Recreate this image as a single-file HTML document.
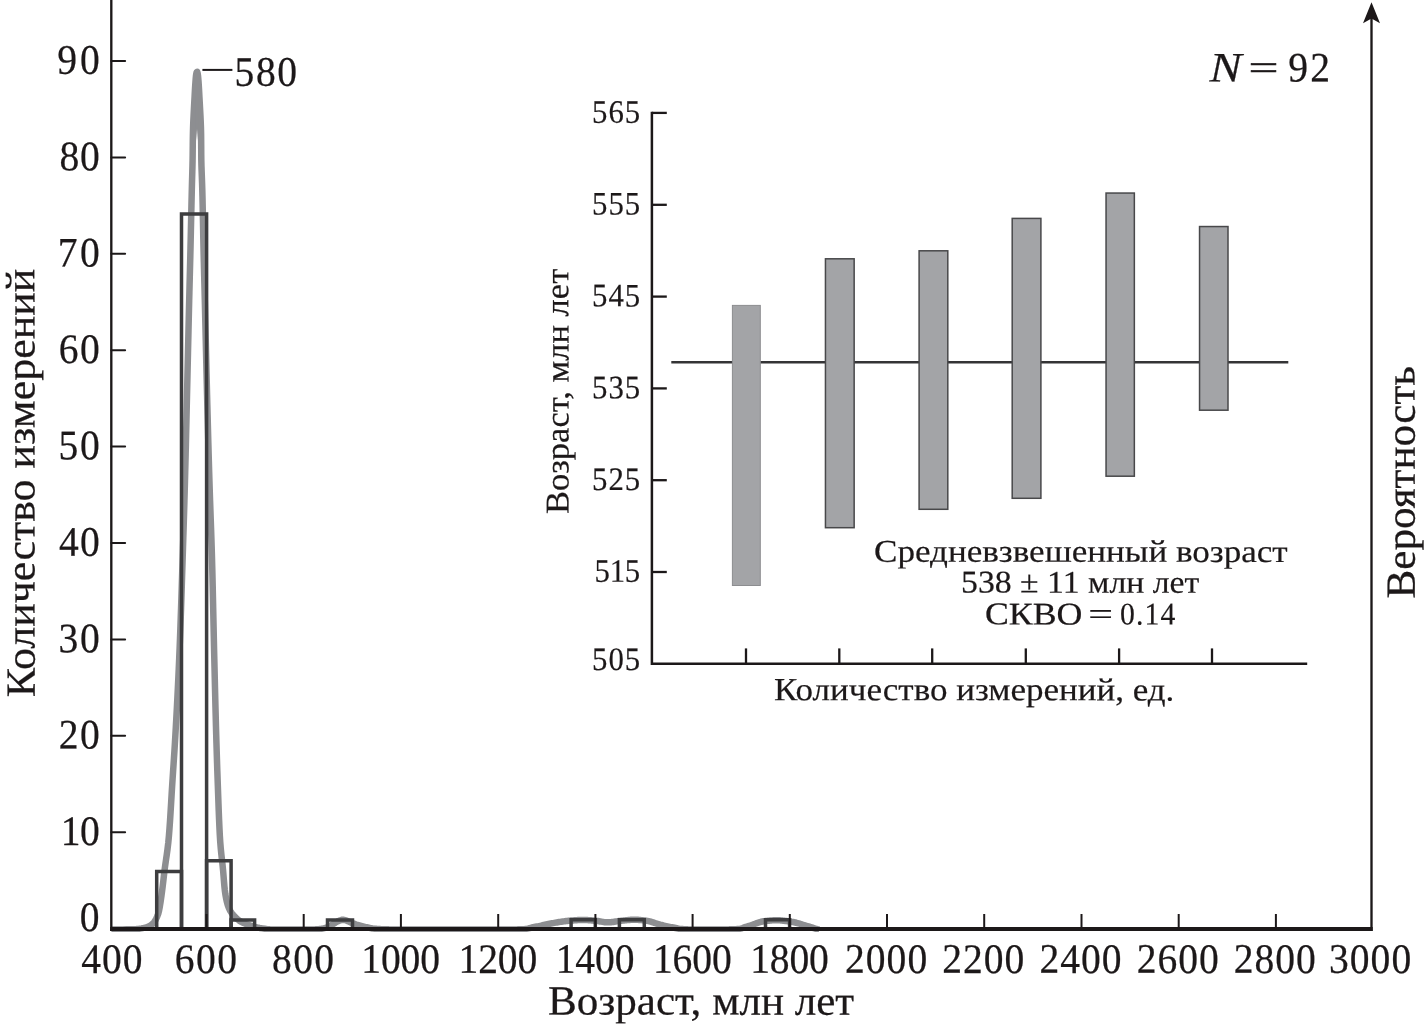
<!DOCTYPE html>
<html lang="ru">
<head>
<meta charset="utf-8">
<title>Количество измерений — Возраст, млн лет</title>
<style>
html,body{margin:0;padding:0;background:#fff;}
body{width:1428px;height:1028px;overflow:hidden;}
svg{display:block;}
text{font-family:"Liberation Serif","Times New Roman",serif;white-space:pre;text-rendering:geometricPrecision;}
</style>
</head>
<body>
<svg width="1428" height="1028" viewBox="0 0 1428 1028" font-family="'Liberation Serif', 'Times New Roman', serif" fill="#1c1819">
<rect width="1428" height="1028" fill="#fff"/>
<clipPath id="kclip"><rect x="0" y="0" width="1428" height="932.1"/></clipPath>
<path clip-path="url(#kclip)" d="M111.40,929.45 L115.25,929.44 L119.02,929.43 L122.72,929.41 L126.40,929.37 L130.11,929.27 L133.57,929.13 L136.52,928.96 L139.06,928.70 L141.52,928.37 L144.00,927.92 L146.38,927.31 L148.65,926.47 L150.75,925.36 L152.58,923.92 L154.18,922.13 L155.49,920.14 L156.60,917.91 L157.51,915.75 L158.28,913.59 L159.05,910.62 L159.87,906.31 L160.68,901.14 L161.46,895.71 L162.15,890.61 L162.74,885.91 L163.27,881.29 L163.80,876.58 L164.38,871.61 L165.06,866.34 L165.85,860.89 L166.68,855.21 L167.51,849.23 L168.26,842.90 L168.90,836.09 L169.49,828.56 L170.05,820.49 L170.58,812.07 L171.09,803.52 L171.59,795.04 L172.08,786.84 L172.58,779.11 L173.05,771.86 L173.52,764.88 L173.97,757.99 L174.43,750.97 L174.88,743.63 L175.34,735.78 L175.82,727.28 L176.31,718.22 L176.82,708.71 L177.32,698.86 L177.82,688.77 L178.30,678.55 L178.77,668.30 L179.21,658.14 L179.62,648.15 L180.01,638.17 L180.38,628.09 L180.73,617.96 L181.08,607.79 L181.41,597.63 L181.73,587.52 L182.05,577.47 L182.36,567.54 L182.67,557.74 L182.98,548.08 L183.28,538.51 L183.58,529.03 L183.86,519.60 L184.15,510.21 L184.42,500.82 L184.69,491.42 L184.95,481.98 L185.19,472.54 L185.43,463.19 L185.66,453.87 L185.88,444.56 L186.09,435.21 L186.31,425.77 L186.53,416.20 L186.75,406.45 L186.98,396.47 L187.22,385.98 L187.47,375.06 L187.73,363.88 L187.98,352.61 L188.24,341.42 L188.49,330.46 L188.73,319.93 L188.96,309.97 L189.18,300.76 L189.39,292.38 L189.58,284.63 L189.77,277.31 L189.95,270.20 L190.13,263.10 L190.31,255.81 L190.49,248.11 L190.68,239.91 L190.87,231.36 L191.06,222.67 L191.25,214.04 L191.44,205.66 L191.62,197.74 L191.79,190.48 L191.96,183.90 L192.13,177.77 L192.30,171.97 L192.45,166.35 L192.57,160.81 L192.65,155.32 L192.71,150.08 L192.76,144.95 L192.81,139.73 L192.90,134.25 L193.05,128.29 L193.29,121.93 L193.59,115.42 L193.92,109.04 L194.24,103.03 L194.53,97.59 L194.81,92.29 L195.09,87.30 L195.38,82.86 L195.66,79.25 L195.93,76.28 L196.24,73.92 L196.70,72.00 L197.23,71.80 L197.71,73.65 L198.03,75.91 L198.30,78.80 L198.58,82.30 L198.87,86.64 L199.15,91.57 L199.43,96.84 L199.72,102.24 L200.04,108.17 L200.38,114.52 L200.69,121.02 L200.94,127.42 L201.09,133.45 L201.15,138.98 L201.19,144.23 L201.22,149.36 L201.25,154.58 L201.31,160.03 L201.44,165.58 L201.63,171.17 L201.85,176.95 L202.08,183.02 L202.29,189.53 L202.47,196.68 L202.64,204.52 L202.81,212.84 L202.97,221.45 L203.14,230.15 L203.31,238.73 L203.48,246.99 L203.66,254.76 L203.84,262.10 L204.02,269.21 L204.20,276.31 L204.39,283.59 L204.58,291.27 L204.79,299.55 L205.01,308.63 L205.24,318.49 L205.49,328.96 L205.75,339.86 L206.01,351.04 L206.28,362.31 L206.54,373.51 L206.81,384.47 L207.07,395.03 L207.33,405.07 L207.59,414.84 L207.84,424.43 L208.09,433.89 L208.35,443.25 L208.60,452.57 L208.87,461.88 L209.14,471.22 L209.42,480.65 L209.72,490.10 L210.03,499.50 L210.36,508.89 L210.69,518.28 L211.03,527.70 L211.35,537.17 L211.66,546.72 L211.95,556.37 L212.21,566.15 L212.46,576.07 L212.70,586.10 L212.92,596.21 L213.14,606.36 L213.36,616.53 L213.58,626.68 L213.80,636.77 L214.02,646.77 L214.26,656.73 L214.50,666.88 L214.74,677.13 L214.98,687.36 L215.23,697.48 L215.47,707.38 L215.72,716.95 L215.96,726.08 L216.20,734.66 L216.43,742.61 L216.65,750.01 L216.87,757.06 L217.09,763.97 L217.32,770.93 L217.57,778.14 L217.84,785.80 L218.12,793.95 L218.42,802.41 L218.73,810.97 L219.07,819.42 L219.43,827.56 L219.81,835.17 L220.24,842.07 L220.77,848.47 L221.37,854.50 L222.00,860.23 L222.61,865.71 L223.14,871.01 L223.57,876.15 L223.95,881.08 L224.34,885.77 L224.80,890.19 L225.37,894.35 L226.06,898.29 L226.85,901.93 L227.76,905.18 L228.87,908.10 L230.16,910.72 L231.65,913.06 L233.43,915.15 L235.27,917.09 L237.15,918.96 L239.15,920.60 L241.33,921.91 L243.65,923.03 L246.06,924.02 L248.57,924.89 L251.22,925.73 L254.09,926.60 L256.98,927.37 L259.67,927.92 L262.22,928.34 L264.77,928.72 L267.27,929.12 L269.95,929.35 L273.01,929.40 L276.36,929.44 L280.00,929.45 L300.00,929.45 L312.00,929.45 L312.94,929.44 L313.89,929.42 L314.83,929.38 L315.78,929.33 L316.72,929.27 L317.66,929.20 L318.61,929.12 L319.55,929.04 L320.49,928.94 L321.44,928.81 L322.38,928.64 L323.33,928.42 L324.27,928.18 L325.21,927.91 L326.16,927.60 L327.10,927.26 L328.04,926.87 L328.99,926.42 L329.93,925.95 L330.88,925.46 L331.82,924.94 L332.76,924.35 L333.71,923.73 L334.65,923.10 L335.60,922.53 L336.54,922.01 L337.48,921.50 L338.43,921.03 L339.37,920.62 L340.31,920.30 L341.26,920.00 L342.20,919.81 L343.15,919.83 L344.09,919.98 L345.03,920.19 L345.98,920.43 L346.92,920.76 L347.87,921.16 L348.81,921.59 L349.75,922.00 L350.70,922.37 L351.64,922.75 L352.58,923.12 L353.53,923.49 L354.47,923.85 L355.42,924.20 L356.36,924.53 L357.30,924.83 L358.25,925.12 L359.19,925.41 L360.13,925.68 L361.08,925.95 L362.02,926.20 L362.97,926.44 L363.91,926.66 L364.85,926.87 L365.80,927.07 L366.74,927.26 L367.69,927.46 L368.63,927.69 L369.57,927.91 L370.52,928.13 L371.46,928.31 L372.40,928.47 L373.35,928.60 L374.29,928.70 L375.24,928.78 L376.18,928.85 L377.12,928.92 L378.07,928.98 L379.01,929.04 L379.96,929.10 L380.90,929.14 L381.84,929.19 L382.79,929.23 L383.73,929.26 L384.67,929.29 L385.62,929.31 L386.56,929.33 L387.51,929.35 L388.45,929.37 L389.39,929.39 L390.34,929.40 L391.28,929.41 L392.22,929.43 L393.17,929.44 L394.11,929.44 L395.06,929.45 L396.00,929.45 L505.00,929.45 L505.00,929.45 L506.18,929.45 L507.35,929.45 L508.53,929.44 L509.70,929.44 L510.88,929.43 L512.06,929.42 L513.23,929.41 L514.41,929.40 L515.58,929.39 L516.76,929.38 L517.94,929.35 L519.11,929.32 L520.29,929.28 L521.47,929.24 L522.64,929.19 L523.82,929.12 L524.99,929.03 L526.17,928.87 L527.35,928.66 L528.52,928.41 L529.70,928.13 L530.87,927.83 L532.05,927.51 L533.23,927.26 L534.40,927.02 L535.58,926.78 L536.75,926.55 L537.93,926.32 L539.11,926.07 L540.28,925.81 L541.46,925.55 L542.64,925.28 L543.81,925.02 L544.99,924.75 L546.16,924.49 L547.34,924.24 L548.52,924.00 L549.69,923.76 L550.87,923.53 L552.04,923.30 L553.22,923.07 L554.40,922.85 L555.57,922.64 L556.75,922.43 L557.92,922.23 L559.10,922.04 L560.28,921.86 L561.45,921.69 L562.63,921.52 L563.81,921.35 L564.98,921.19 L566.16,921.04 L567.33,920.90 L568.51,920.78 L569.69,920.68 L570.86,920.58 L572.04,920.49 L573.21,920.40 L574.39,920.31 L575.57,920.23 L576.74,920.15 L577.92,920.08 L579.09,920.03 L580.27,919.99 L581.45,919.96 L582.62,919.95 L583.80,919.96 L584.97,919.99 L586.15,920.04 L587.33,920.10 L588.50,920.18 L589.68,920.26 L590.86,920.35 L592.03,920.45 L593.21,920.55 L594.38,920.65 L595.56,920.75 L596.74,920.89 L597.91,921.06 L599.09,921.25 L600.26,921.46 L601.44,921.66 L602.62,921.86 L603.79,922.04 L604.97,922.18 L606.14,922.29 L607.32,922.34 L608.50,922.34 L609.67,922.29 L610.85,922.19 L612.03,922.06 L613.20,921.91 L614.38,921.74 L615.55,921.55 L616.73,921.37 L617.91,921.19 L619.08,921.02 L620.26,920.88 L621.43,920.76 L622.61,920.64 L623.79,920.51 L624.96,920.38 L626.14,920.25 L627.31,920.13 L628.49,920.02 L629.67,919.92 L630.84,919.83 L632.02,919.76 L633.19,919.72 L634.37,919.70 L635.55,919.71 L636.72,919.75 L637.90,919.81 L639.08,919.90 L640.25,920.00 L641.43,920.12 L642.60,920.24 L643.78,920.38 L644.96,920.52 L646.13,920.67 L647.31,920.87 L648.48,921.12 L649.66,921.41 L650.84,921.73 L652.01,922.08 L653.19,922.45 L654.36,922.83 L655.54,923.22 L656.72,923.60 L657.89,923.98 L659.07,924.33 L660.25,924.66 L661.42,924.95 L662.60,925.24 L663.77,925.53 L664.95,925.81 L666.13,926.09 L667.30,926.36 L668.48,926.62 L669.65,926.86 L670.83,927.09 L672.01,927.30 L673.18,927.51 L674.36,927.78 L675.53,928.04 L676.71,928.29 L677.89,928.52 L679.06,928.72 L680.24,928.89 L681.42,929.02 L682.59,929.10 L683.77,929.17 L684.94,929.24 L686.12,929.30 L687.30,929.35 L688.47,929.39 L689.65,929.42 L690.82,929.44 L692.00,929.45 L700.00,929.45 L701.09,929.45 L702.19,929.45 L703.28,929.45 L704.38,929.45 L705.47,929.45 L706.57,929.45 L707.66,929.45 L708.76,929.44 L709.85,929.44 L710.94,929.44 L712.04,929.44 L713.13,929.44 L714.23,929.43 L715.32,929.43 L716.42,929.43 L717.51,929.43 L718.61,929.42 L719.70,929.42 L720.80,929.42 L721.89,929.41 L722.98,929.41 L724.08,929.40 L725.17,929.40 L726.27,929.39 L727.36,929.39 L728.46,929.38 L729.55,929.37 L730.65,929.35 L731.74,929.32 L732.83,929.29 L733.93,929.25 L735.02,929.20 L736.12,929.15 L737.21,929.09 L738.31,929.02 L739.40,928.87 L740.50,928.63 L741.59,928.33 L742.69,927.97 L743.78,927.56 L744.87,927.21 L745.97,926.86 L747.06,926.51 L748.16,926.15 L749.25,925.82 L750.35,925.50 L751.44,925.16 L752.54,924.78 L753.63,924.38 L754.72,923.97 L755.82,923.55 L756.91,923.13 L758.01,922.73 L759.10,922.36 L760.20,922.01 L761.29,921.71 L762.39,921.47 L763.48,921.28 L764.58,921.14 L765.67,921.01 L766.76,920.88 L767.86,920.76 L768.95,920.65 L770.05,920.55 L771.14,920.46 L772.24,920.38 L773.33,920.32 L774.43,920.28 L775.52,920.26 L776.61,920.25 L777.71,920.27 L778.80,920.31 L779.90,920.37 L780.99,920.45 L782.09,920.54 L783.18,920.66 L784.28,920.78 L785.37,920.92 L786.47,921.06 L787.56,921.22 L788.65,921.38 L789.75,921.54 L790.84,921.71 L791.94,921.88 L793.03,922.05 L794.13,922.27 L795.22,922.51 L796.32,922.78 L797.41,923.08 L798.50,923.40 L799.60,923.73 L800.69,924.07 L801.79,924.42 L802.88,924.76 L803.98,925.10 L805.07,925.43 L806.17,925.75 L807.26,926.06 L808.36,926.38 L809.45,926.71 L810.54,927.03 L811.64,927.35 L812.73,927.70 L813.83,928.09 L814.92,928.46 L816.02,928.82 L817.11,929.17 L818.21,929.50 L819.30,929.75" fill="none" stroke="#8d8e91" stroke-width="6.5" stroke-linejoin="round" stroke-linecap="butt"/>
<path d="M195.9,96 H198.1 V128 L197,141 L195.9,128 Z" fill="#8d8e91"/>
<g fill="none" stroke="#3d3d3f" stroke-width="3.5" stroke-linejoin="miter">
<path d="M156.7,929.0 V871.6 H181.5 V929.0"/>
<path d="M181.5,929.0 V214.0 H206.6 V929.0"/>
<path d="M206.6,929.0 V860.8 H231.1 V929.0"/>
<path d="M231.1,929.0 V919.9 H254.6 V929.0"/>
<path d="M327.5,929.0 V920.0 H352.5 V929.0"/>
<path d="M571.1,929.0 V919.7 H595.3 V929.0"/>
<path d="M619.4,929.0 V919.7 H644.3 V929.0"/>
<path d="M765.5,929.0 V919.8 H789.6 V929.0"/>
</g>
<g stroke="#1c1819" fill="none">
<line x1="111.3" y1="0" x2="111.3" y2="931.0" stroke-width="2.35"/>
<line x1="110.1" y1="929.0" x2="1372.7" y2="929.0" stroke-width="4.1"/>
<line x1="1371.5" y1="18" x2="1371.5" y2="931.0" stroke-width="2.35"/>
<line x1="111.3" y1="832.2" x2="125.1" y2="832.2" stroke-width="2" stroke-linecap="round"/>
<line x1="111.3" y1="735.8" x2="125.1" y2="735.8" stroke-width="2" stroke-linecap="round"/>
<line x1="111.3" y1="639.4" x2="125.1" y2="639.4" stroke-width="2" stroke-linecap="round"/>
<line x1="111.3" y1="543.0" x2="125.1" y2="543.0" stroke-width="2" stroke-linecap="round"/>
<line x1="111.3" y1="446.6" x2="125.1" y2="446.6" stroke-width="2" stroke-linecap="round"/>
<line x1="111.3" y1="350.2" x2="125.1" y2="350.2" stroke-width="2" stroke-linecap="round"/>
<line x1="111.3" y1="253.8" x2="125.1" y2="253.8" stroke-width="2" stroke-linecap="round"/>
<line x1="111.3" y1="157.4" x2="125.1" y2="157.4" stroke-width="2" stroke-linecap="round"/>
<line x1="111.3" y1="61.0" x2="125.1" y2="61.0" stroke-width="2" stroke-linecap="round"/>
<line x1="206.5" y1="929.0" x2="206.5" y2="914.0" stroke-width="2"/>
<line x1="303.7" y1="929.0" x2="303.7" y2="914.0" stroke-width="2"/>
<line x1="400.9" y1="929.0" x2="400.9" y2="914.0" stroke-width="2"/>
<line x1="498.2" y1="929.0" x2="498.2" y2="914.0" stroke-width="2"/>
<line x1="595.4" y1="929.0" x2="595.4" y2="914.0" stroke-width="2"/>
<line x1="692.6" y1="929.0" x2="692.6" y2="914.0" stroke-width="2"/>
<line x1="789.8" y1="929.0" x2="789.8" y2="914.0" stroke-width="2"/>
<line x1="887.0" y1="929.0" x2="887.0" y2="914.0" stroke-width="2"/>
<line x1="984.2" y1="929.0" x2="984.2" y2="914.0" stroke-width="2"/>
<line x1="1081.5" y1="929.0" x2="1081.5" y2="914.0" stroke-width="2"/>
<line x1="1178.7" y1="929.0" x2="1178.7" y2="914.0" stroke-width="2"/>
<line x1="1275.9" y1="929.0" x2="1275.9" y2="914.0" stroke-width="2"/>
</g>
<path d="M1371.5,2.3 L1380.0,23.2 L1371.5,18.4 L1363.0,23.2 Z" fill="#1c1819"/>
<text transform="translate(81.47,844.95) rotate(0.04) translate(-20.80,0) scale(0.9400,1)" font-size="42" letter-spacing="-0.420" stroke="#1c1819" stroke-width="0.25" stroke-linejoin="round">10</text>
<text transform="translate(78.51,748.55) rotate(0.04) translate(-19.86,0) scale(0.9400,1)" font-size="42" letter-spacing="1.729" stroke="#1c1819" stroke-width="0.25" stroke-linejoin="round">20</text>
<text transform="translate(78.59,652.15) rotate(0.04) translate(-19.98,0) scale(0.9400,1)" font-size="42" letter-spacing="1.766" stroke="#1c1819" stroke-width="0.25" stroke-linejoin="round">30</text>
<text transform="translate(78.48,555.75) rotate(0.04) translate(-19.39,0) scale(0.9400,1)" font-size="42" letter-spacing="1.261" stroke="#1c1819" stroke-width="0.25" stroke-linejoin="round">40</text>
<text transform="translate(78.76,459.35) rotate(0.04) translate(-20.21,0) scale(0.9400,1)" font-size="42" letter-spacing="1.840" stroke="#1c1819" stroke-width="0.25" stroke-linejoin="round">50</text>
<text transform="translate(78.51,362.95) rotate(0.04) translate(-19.86,0) scale(0.9400,1)" font-size="42" letter-spacing="1.729" stroke="#1c1819" stroke-width="0.25" stroke-linejoin="round">60</text>
<text transform="translate(78.04,266.55) rotate(0.04) translate(-20.33,0) scale(0.9400,1)" font-size="42" letter-spacing="2.729" stroke="#1c1819" stroke-width="0.25" stroke-linejoin="round">70</text>
<text transform="translate(79.13,170.15) rotate(0.04) translate(-19.74,0) scale(0.9400,1)" font-size="42" letter-spacing="0.947" stroke="#1c1819" stroke-width="0.25" stroke-linejoin="round">80</text>
<text transform="translate(76.85,73.75) rotate(0.04) translate(-19.62,0) scale(0.9400,1)" font-size="42" letter-spacing="3.250" stroke="#1c1819" stroke-width="0.25" stroke-linejoin="round">90</text>
<text transform="translate(89.74,930.90) rotate(0.04) translate(-9.87,0) scale(0.9400,1)" font-size="42" stroke="#1c1819" stroke-width="0.25" stroke-linejoin="round">0</text>
<text transform="translate(110.45,972.90) rotate(0.04) translate(-29.26,0) scale(0.9400,1)" font-size="42" letter-spacing="1.114" stroke="#1c1819" stroke-width="0.25" stroke-linejoin="round">400</text>
<text transform="translate(204.48,972.90) rotate(0.04) translate(-29.73,0) scale(0.9400,1)" font-size="42" letter-spacing="1.614" stroke="#1c1819" stroke-width="0.25" stroke-linejoin="round">600</text>
<text transform="translate(301.60,972.90) rotate(0.04) translate(-29.61,0) scale(0.9400,1)" font-size="42" letter-spacing="1.489" stroke="#1c1819" stroke-width="0.25" stroke-linejoin="round">800</text>
<text transform="translate(401.80,972.90) rotate(0.04) translate(-40.54,0) scale(0.9400,1)" font-size="42" letter-spacing="-0.080" stroke="#1c1819" stroke-width="0.25" stroke-linejoin="round">1000</text>
<text transform="translate(499.02,972.90) rotate(0.04) translate(-40.54,0) scale(0.9400,1)" font-size="42" letter-spacing="-0.080" stroke="#1c1819" stroke-width="0.25" stroke-linejoin="round">1200</text>
<text transform="translate(596.24,972.90) rotate(0.04) translate(-40.54,0) scale(0.9400,1)" font-size="42" letter-spacing="-0.080" stroke="#1c1819" stroke-width="0.25" stroke-linejoin="round">1400</text>
<text transform="translate(693.46,972.90) rotate(0.04) translate(-40.54,0) scale(0.9400,1)" font-size="42" letter-spacing="-0.080" stroke="#1c1819" stroke-width="0.25" stroke-linejoin="round">1600</text>
<text transform="translate(790.67,972.90) rotate(0.04) translate(-40.54,0) scale(0.9400,1)" font-size="42" letter-spacing="-0.080" stroke="#1c1819" stroke-width="0.25" stroke-linejoin="round">1800</text>
<text transform="translate(884.68,972.90) rotate(0.04) translate(-39.60,0) scale(0.9400,1)" font-size="42" letter-spacing="1.098" stroke="#1c1819" stroke-width="0.25" stroke-linejoin="round">2000</text>
<text transform="translate(981.90,972.90) rotate(0.04) translate(-39.60,0) scale(0.9400,1)" font-size="42" letter-spacing="1.098" stroke="#1c1819" stroke-width="0.25" stroke-linejoin="round">2200</text>
<text transform="translate(1079.12,972.90) rotate(0.04) translate(-39.60,0) scale(0.9400,1)" font-size="42" letter-spacing="1.098" stroke="#1c1819" stroke-width="0.25" stroke-linejoin="round">2400</text>
<text transform="translate(1176.35,972.90) rotate(0.04) translate(-39.60,0) scale(0.9400,1)" font-size="42" letter-spacing="1.098" stroke="#1c1819" stroke-width="0.25" stroke-linejoin="round">2600</text>
<text transform="translate(1273.40,972.90) rotate(0.04) translate(-39.60,0) scale(0.9400,1)" font-size="42" letter-spacing="1.098" stroke="#1c1819" stroke-width="0.25" stroke-linejoin="round">2800</text>
<text transform="translate(1368.63,972.90) rotate(0.04) translate(-39.71,0) scale(0.9400,1)" font-size="42" letter-spacing="1.181" stroke="#1c1819" stroke-width="0.25" stroke-linejoin="round">3000</text>
<text transform="translate(701.45,1014.60) rotate(0.04) translate(-153.45,0) scale(1.0377,1)" font-size="41.5" stroke="#1c1819" stroke-width="0.25" stroke-linejoin="round">Возраст, млн лет</text>
<text transform="translate(34.65,697.22) rotate(-90.04) scale(1.0590,1)" font-size="41.5" stroke="#1c1819" stroke-width="0.25" stroke-linejoin="round">Количество измерений</text>
<text transform="translate(1414.75,598.60) rotate(-90.04) scale(1.0407,1)" font-size="41.5" stroke="#1c1819" stroke-width="0.25" stroke-linejoin="round">Вероятность</text>
<line x1="202.4" y1="69.9" x2="232.4" y2="69.9" stroke="#1c1819" stroke-width="2"/>
<text transform="translate(264.68,85.85) rotate(0.04) translate(-30.08,0) scale(0.9400,1)" font-size="42" letter-spacing="1.644" stroke="#1c1819" stroke-width="0.25" stroke-linejoin="round">580</text>
<text transform="translate(1226.70,81.60) rotate(0.04) translate(-17.11,0) scale(1.1504,1)" font-size="42" font-style="italic" stroke="#1c1819" stroke-width="0.25" stroke-linejoin="round">N</text>
<text transform="translate(1263.50,79.30) rotate(0.04) translate(-15.03,0) scale(1.2658,0.839)" font-size="42" stroke="#1c1819" stroke-width="0.62" stroke-linejoin="round">=</text>
<text transform="translate(1307.50,81.60) rotate(0.04) translate(-19.27,0) scale(0.9400,1)" font-size="42" letter-spacing="2.457" stroke="#1c1819" stroke-width="0.25" stroke-linejoin="round">92</text>
<g stroke="#1c1819" fill="none" stroke-width="2.3">
<line x1="651.9" y1="112.9" x2="666.8" y2="112.9"/>
<line x1="651.9" y1="204.8" x2="666.8" y2="204.8"/>
<line x1="651.9" y1="296.6" x2="666.8" y2="296.6"/>
<line x1="651.9" y1="388.4" x2="666.8" y2="388.4"/>
<line x1="651.9" y1="480.2" x2="666.8" y2="480.2"/>
<line x1="651.9" y1="572.0" x2="666.8" y2="572.0"/>
<line x1="746.0" y1="663.85" x2="746.0" y2="648.4"/>
<line x1="839.3" y1="663.85" x2="839.3" y2="648.4"/>
<line x1="932.2" y1="663.85" x2="932.2" y2="648.4"/>
<line x1="1025.8" y1="663.85" x2="1025.8" y2="648.4"/>
<line x1="1119.1" y1="663.85" x2="1119.1" y2="648.4"/>
<line x1="1212.0" y1="663.85" x2="1212.0" y2="648.4"/>
<path d="M651.9,111.8 V663.85 H1307.2" stroke-width="2.5" stroke-linejoin="miter"/>
</g>
<line x1="671.3" y1="362.3" x2="1288.3" y2="362.3" stroke="#343436" stroke-width="2.4"/>
<rect x="732.40" y="305.40" width="27.90" height="280.10" fill="#a3a4a7" stroke="#8c8d90" stroke-width="1.0"/>
<rect x="825.45" y="258.80" width="28.70" height="268.90" fill="#a3a4a7" stroke="#48484a" stroke-width="1.5"/>
<rect x="919.10" y="250.80" width="28.70" height="258.50" fill="#a3a4a7" stroke="#48484a" stroke-width="1.5"/>
<rect x="1012.20" y="218.40" width="28.70" height="279.90" fill="#a3a4a7" stroke="#48484a" stroke-width="1.5"/>
<rect x="1106.05" y="193.05" width="28.30" height="283.15" fill="#a3a4a7" stroke="#48484a" stroke-width="1.5"/>
<rect x="1199.55" y="226.55" width="28.45" height="183.65" fill="#a3a4a7" stroke="#48484a" stroke-width="1.5"/>
<text transform="translate(617.90,581.83) rotate(0.04) translate(-23.38,0) scale(0.9400,1)" font-size="32.7" letter-spacing="-0.269" stroke="#1c1819" stroke-width="0.2" stroke-linejoin="round">515</text>
<text transform="translate(615.40,490.01) rotate(0.04) translate(-23.38,0) scale(0.9400,1)" font-size="32.7" letter-spacing="1.061" stroke="#1c1819" stroke-width="0.2" stroke-linejoin="round">525</text>
<text transform="translate(615.40,398.19) rotate(0.04) translate(-23.38,0) scale(0.9400,1)" font-size="32.7" letter-spacing="1.061" stroke="#1c1819" stroke-width="0.2" stroke-linejoin="round">535</text>
<text transform="translate(615.40,306.37) rotate(0.04) translate(-23.38,0) scale(0.9400,1)" font-size="32.7" letter-spacing="1.061" stroke="#1c1819" stroke-width="0.2" stroke-linejoin="round">545</text>
<text transform="translate(615.40,214.55) rotate(0.04) translate(-23.38,0) scale(0.9400,1)" font-size="32.7" letter-spacing="1.061" stroke="#1c1819" stroke-width="0.2" stroke-linejoin="round">555</text>
<text transform="translate(615.40,122.73) rotate(0.04) translate(-23.38,0) scale(0.9400,1)" font-size="32.7" letter-spacing="1.061" stroke="#1c1819" stroke-width="0.2" stroke-linejoin="round">565</text>
<text transform="translate(615.40,670.10) rotate(0.04) translate(-23.38,0) scale(0.9400,1)" font-size="32.7" letter-spacing="1.061" stroke="#1c1819" stroke-width="0.2" stroke-linejoin="round">505</text>
<text transform="translate(568.50,514.04) rotate(-90.04) scale(1.0397,1)" font-size="33.2" stroke="#1c1819" stroke-width="0.2" stroke-linejoin="round">Возраст, млн лет</text>
<text transform="translate(973.50,700.30) rotate(0.04) translate(-199.58,0) scale(1.0840,1)" font-size="32.3" stroke="#1c1819" stroke-width="0.2" stroke-linejoin="round">Количество измерений, ед.</text>
<text transform="translate(1081.30,561.80) rotate(0.04) translate(-207.29,0) scale(1.1107,1)" font-size="31.6" stroke="#1c1819" stroke-width="0.2" stroke-linejoin="round">Средневзвешенный возраст</text>
<text transform="translate(1080.85,592.65) rotate(0.04) translate(-119.82,0) scale(1.0686,1)" font-size="31.6" stroke="#1c1819" stroke-width="0.2" stroke-linejoin="round">538 ± 11 млн лет</text>
<text transform="translate(1033.70,624.40) rotate(0.04) translate(-48.72,0) scale(1.1329,1)" font-size="31.6" stroke="#1c1819" stroke-width="0.2" stroke-linejoin="round">СКВО</text>
<text transform="translate(1100.65,624.50) rotate(0.04) translate(-12.33,0) scale(1.3898,1)" font-size="31.6" stroke="#1c1819" stroke-width="0.2" stroke-linejoin="round">=</text>
<text transform="translate(1146.35,624.40) rotate(0.04) translate(-26.32,0) scale(0.9400,1)" font-size="31.6" letter-spacing="1.209" stroke="#1c1819" stroke-width="0.2" stroke-linejoin="round">0.14</text>
</svg>
</body>
</html>
